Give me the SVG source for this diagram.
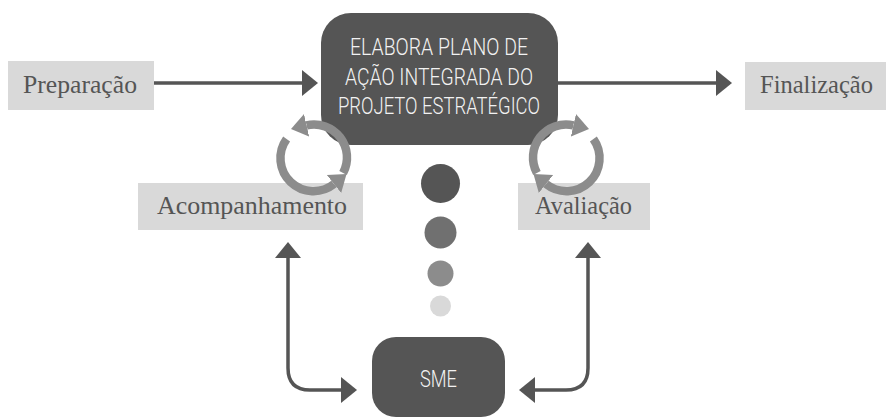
<svg xmlns="http://www.w3.org/2000/svg" width="886" height="419" viewBox="0 0 886 419">
<style>
.lbl{fill:#d9d9d9}
.lt{font-family:"Liberation Serif","DejaVu Serif",serif;font-size:25px;fill:#555555;text-anchor:middle}
.dk{fill:#555555}
.wt{font-family:Roboto,"Liberation Sans",sans-serif;font-weight:300;font-size:23px;fill:#f2f2f2;text-anchor:middle}
.con{fill:none;stroke:#555555;stroke-width:3.5}
.cyc{fill:none;stroke:#8c8c8c;stroke-width:8.5}
</style>
<defs>
<marker id="ah" markerUnits="userSpaceOnUse" markerWidth="18" markerHeight="28" viewBox="0 -14 18 28" refX="0" refY="0" orient="auto-start-reverse">
<path d="M0,-13 L16,0 L0,13 z" fill="#555555"/>
</marker>
<marker id="ch" markerUnits="userSpaceOnUse" markerWidth="20" markerHeight="26" viewBox="0 -13 20 26" refX="0" refY="0" orient="auto">
<path d="M0,-11.5 L16,0 L0,11.5 z" fill="#8c8c8c"/>
</marker>
</defs>
<rect width="886" height="419" fill="#ffffff"/>
<g id="connectors">
<path class="con" d="M154,83 H302" marker-end="url(#ah)"/>
<path class="con" d="M558,83 H716" marker-end="url(#ah)"/>
<path class="con" d="M288,258 V368 Q288,390 310,390 H341" marker-start="url(#ah)" marker-end="url(#ah)"/>
<path class="con" d="M588,258 V368 Q588,390 566,390 H535" marker-start="url(#ah)" marker-end="url(#ah)"/>
</g>
<g id="preparacao">
<rect class="lbl" x="8" y="61" width="146" height="49"/>
<text class="lt" x="80" y="93" textLength="114" lengthAdjust="spacingAndGlyphs">Preparação</text>
</g>
<g id="finalizacao">
<rect class="lbl" x="745" y="62" width="141" height="48"/>
<text class="lt" x="816.5" y="93" textLength="113" lengthAdjust="spacingAndGlyphs">Finalização</text>
</g>
<g id="acompanhamento">
<rect class="lbl" x="138" y="183" width="225" height="47"/>
<text class="lt" x="252" y="214" textLength="190" lengthAdjust="spacingAndGlyphs">Acompanhamento</text>
</g>
<g id="avaliacao">
<rect class="lbl" x="518" y="183" width="132" height="47"/>
<text class="lt" x="583.5" y="214" textLength="97" lengthAdjust="spacingAndGlyphs">Avaliação</text>
</g>
<g id="elabora">
<rect class="dk" x="321" y="13" width="237" height="132" rx="30" ry="30"/>
<text class="wt" x="439" y="55" textLength="178" lengthAdjust="spacingAndGlyphs">ELABORA PLANO DE</text>
<text class="wt" x="439" y="85" textLength="188" lengthAdjust="spacingAndGlyphs">AÇÃO INTEGRADA DO</text>
<text class="wt" x="439" y="114" textLength="202" lengthAdjust="spacingAndGlyphs">PROJETO ESTRATÉGICO</text>
</g>
<g id="cycle-left">
<path class="cyc" d="M343.1,173 A33,33 0 0 0 306.6,125.3" marker-end="url(#ch)"/>
<path class="cyc" d="M286.6,139 A33,33 0 0 0 334,184" marker-end="url(#ch)"/>
</g>
<g id="cycle-right" transform="matrix(-1 0 0 1 880 0)">
<path class="cyc" d="M343.1,173 A33,33 0 0 0 306.6,125.3" marker-end="url(#ch)"/>
<path class="cyc" d="M286.6,139 A33,33 0 0 0 334,184" marker-end="url(#ch)"/>
</g>
<g id="dots">
<circle cx="440.5" cy="183.5" r="19.5" fill="#555555"/>
<circle cx="440.5" cy="232.5" r="16" fill="#707070"/>
<circle cx="440.5" cy="273.5" r="13" fill="#8c8c8c"/>
<circle cx="440.5" cy="306" r="10.5" fill="#d9d9d9"/>
</g>
<g id="sme">
<rect class="dk" x="372" y="337" width="133" height="80" rx="24" ry="24"/>
<text class="wt" x="438.5" y="387" textLength="37" lengthAdjust="spacingAndGlyphs">SME</text>
</g>
</svg>
